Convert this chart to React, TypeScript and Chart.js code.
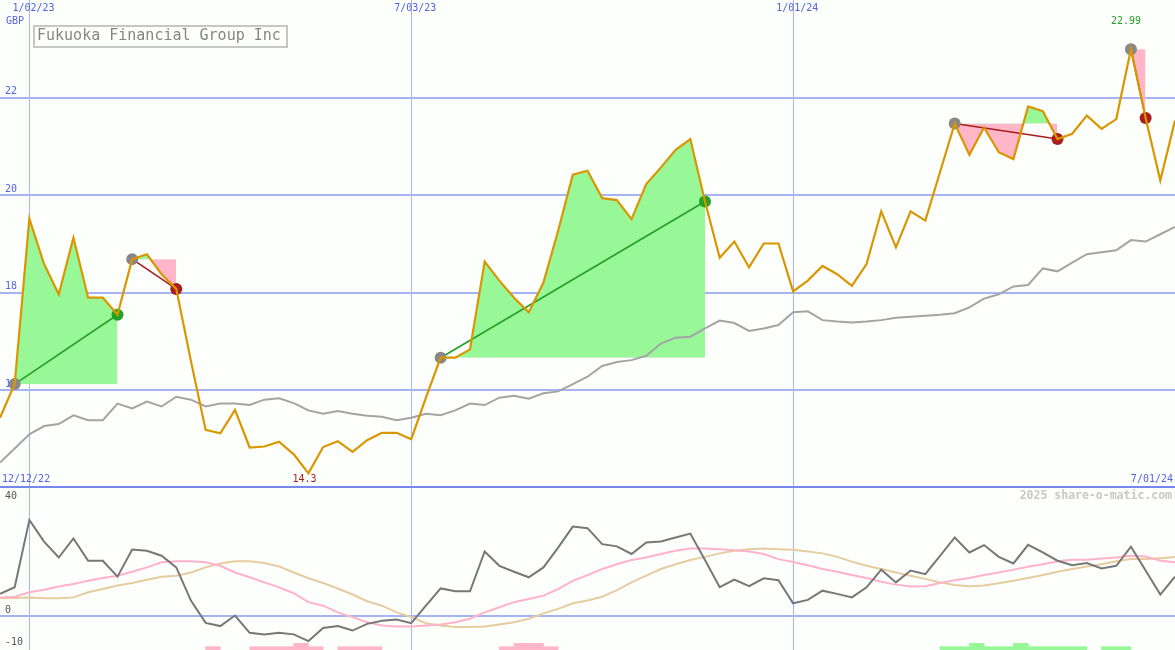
import React, { useEffect, useRef } from "react";
import { Chart, registerables } from "chart.js";

Chart.register(...registerables);

const W = 1175;
const TOP_H = 488;
const BOT_H = 162;

// ---- categories / ticks ----
const gridWeeks = [2, 28, 54];
const gridDates = ["1/02/23", "7/03/23", "1/01/24"];
const startLabel = "12/12/22";
const endLabel = "7/01/24";
const priceTicks = [16, 18, 20, 22];
const oscTicks = [40, 0, -10];
const oscGrid = [0];
const title = "Fukuoka Financial Group Inc";
const currency = "GBP";
const watermark = "2025 share-o-matic.com";

// ---- weekly series (index 0..80) ----
const price = [
  15.44, 16.13, 19.52, 18.59, 17.97, 19.13, 17.9, 17.9, 17.55, 18.69,
  18.79, 18.38, 18.08, 16.6, 15.19, 15.12, 15.6, 14.83, 14.85, 14.95,
  14.69, 14.3, 14.84, 14.96, 14.74, 14.98, 15.13, 15.13, 15.0, 15.85,
  16.67, 16.67, 16.84, 18.64, 18.25, 17.9, 17.6, 18.21, 19.27, 20.42,
  20.5, 19.94, 19.9, 19.51, 20.23, 20.57, 20.93, 21.15, 19.87, 18.72,
  19.05, 18.52, 19.01, 19.01, 18.03, 18.25, 18.55, 18.38, 18.14, 18.59,
  19.67, 18.93, 19.67, 19.48, 20.47, 21.47, 20.83, 21.39, 20.88, 20.74,
  21.82, 21.72, 21.15, 21.26, 21.63, 21.36, 21.56, 22.99, 21.58, 20.3,
  21.53,
];
const average = [
  14.52, 14.81, 15.1, 15.27, 15.31, 15.49, 15.39, 15.39, 15.73, 15.63,
  15.77, 15.67, 15.87, 15.81, 15.67, 15.73, 15.73, 15.7, 15.81, 15.84,
  15.74, 15.59, 15.52, 15.58, 15.52, 15.48, 15.46, 15.39, 15.44, 15.52,
  15.49, 15.59, 15.73, 15.7, 15.85, 15.89, 15.83, 15.94, 15.98, 16.13,
  16.28, 16.5, 16.58, 16.62, 16.71, 16.96, 17.08, 17.1, 17.27, 17.43,
  17.38, 17.22, 17.27, 17.34, 17.6, 17.62, 17.44, 17.41, 17.39, 17.41,
  17.44, 17.49, 17.51, 17.53, 17.55, 17.58, 17.7, 17.88, 17.97, 18.13,
  18.16, 18.5, 18.44, 18.62, 18.79, 18.83, 18.87, 19.08, 19.05, 19.2,
  19.35,
];
const momentum = [
  6.8, 8.9, 30.0, 23.2, 18.2, 24.2, 17.2, 17.2, 12.2, 20.7,
  20.3, 18.75, 15.1, 4.7, -2.3, -3.3, 0, -5.4, -5.9, -5.4,
  -5.9, -8.0, -3.9, -3.3, -4.7, -2.6, -1.6, -1.25, -2.4, 3.1,
  8.5, 7.6, 7.6, 20.1, 15.6, 13.75, 12.0, 15.1, 21.3, 27.9,
  27.4, 22.4, 21.7, 19.3, 22.9, 23.2, 24.5, 25.7, 17.4, 8.9,
  11.25, 9.2, 11.7, 11.1, 3.85, 4.9, 7.8, 6.8, 5.7, 8.85,
  14.4, 10.4, 14.1, 13.0, 18.75, 24.5, 19.8, 22.1, 18.4, 16.35,
  22.2, 19.8, 17.2, 15.8, 16.5, 14.8, 15.6, 21.6, 14.1, 6.6,
  12.2,
];
const signal = [
  5.7, 5.9, 7.3, 8.1, 9.1, 9.9, 10.9, 11.8, 12.5, 13.75,
  15.1, 16.7, 17.0, 17.0, 16.7, 15.6, 13.5, 12.0, 10.4, 8.85,
  7.0, 4.2, 3.1, 1.0, -0.5, -2.1, -3.1, -3.4, -3.4, -3.1,
  -2.8, -2.1, -1.0, 1.0, 2.6, 4.2, 5.2, 6.25, 8.3, 10.9,
  12.7, 14.6, 16.1, 17.4, 18.2, 19.3, 20.3, 21.0, 21.0, 20.8,
  20.5, 20.1, 19.3, 17.7, 16.8, 15.8, 14.6, 13.75, 12.7, 11.8,
  10.6, 9.7, 9.1, 9.2, 10.2, 11.1, 11.8, 12.7, 13.5, 14.4,
  15.3, 16.1, 17.0, 17.5, 17.5, 17.9, 18.2, 18.75, 18.5, 17.2,
  16.7,
];
const slow = [
  5.5, 5.5, 5.7, 5.4, 5.4, 5.7, 7.3, 8.3, 9.4, 10.2,
  11.25, 12.2, 12.5, 13.5, 15.1, 16.35, 17.0, 17.0, 16.5, 15.4,
  13.5, 11.7, 10.2, 8.5, 6.6, 4.5, 3.1, 1.0, -0.5, -2.4,
  -3.1, -3.6, -3.6, -3.4, -2.8, -2.1, -1.0, 0.7, 2.1, 3.85,
  4.7, 5.9, 8.0, 10.4, 12.5, 14.6, 16.1, 17.4, 18.4, 19.5,
  20.3, 20.8, 21.0, 20.8, 20.6, 20.1, 19.5, 18.4, 16.9, 15.6,
  14.6, 13.5, 12.5, 11.5, 10.4, 9.6, 9.2, 9.4, 10.1, 10.9,
  11.8, 12.7, 13.75, 14.6, 15.4, 16.1, 17.0, 17.7, 17.7, 18.0,
  18.4,
];
// histogram at the foot of the lower panel, one value per week interval (0..79)
const bottomBars = [
  0, 0, 0, 0, 0, 0, 0, 0, 0, 0,
  0, 0, 0, 0, -1, 0, 0, -1, -1, -1,
  -2, -1, 0, -1, -1, -1, 0, 0, 0, 0,
  0, 0, 0, 0, -1, -2, -2, -1, 0, 0,
  0, 0, 0, 0, 0, 0, 0, 0, 0, 0,
  0, 0, 0, 0, 0, 0, 0, 0, 0, 0,
  0, 0, 0, 0, 1, 1, 2, 1, 1, 2,
  1, 1, 1, 1, 0, 1, 1, 0, 0, 0,
];
// trades
const buyWeeks = [1, 9, 30, 65, 77];
const sellWeeks = [8, 12, 48, 72, 78];

// ---- styles ----
const BG = "#fcfffc";
const GRID = "#a6b4f2";
const SEP = "#7686ec";
const LABEL = "#5462e4";
const PRICE = "#d99600";
const AVG = "#a4a4a4";
const MOM = "#777777";
const SIG = "#ffb2c8";
const SLOW = "#e6cc9e";
const UP_FILL = "#98f898";
const DN_FILL = "#ffb6c8";
const BUY = "#888888";
const WIN = "#24a024";
const LOSS = "#a81e1e";
const MONO = '"DejaVu Sans Mono", "Liberation Mono", monospace';

const pts = (arr: number[], from = 0) => arr.map((y, i) => ({ x: i + from, y }));

const baseX = (ticksArr: number[]) => ({
  type: "linear" as const,
  min: 0,
  max: price.length - 1,
  offset: false,
  afterBuildTicks: (s: any) => {
    s.ticks = ticksArr.map((v) => ({ value: v }));
  },
  afterFit: (s: any) => {
    s.height = 0;
  },
  ticks: { display: false },
  grid: { color: GRID, lineWidth: 1, drawTicks: false, offset: false },
  border: { display: false },
});

const fmt = (v: number) => String(Number(v.toFixed(2)));

export default function App() {
  const topRef = useRef<HTMLCanvasElement | null>(null);
  const botRef = useRef<HTMLCanvasElement | null>(null);

  useEffect(() => {
    if (!topRef.current || !botRef.current) return;

    const fills = buyWeeks.map((b, k) => ({
      type: "line" as const,
      data: pts(price.slice(b, sellWeeks[k] + 1), b),
      borderWidth: 0,
      borderColor: "rgba(0,0,0,0)",
      pointRadius: 0,
      fill: { target: { value: price[b] }, above: UP_FILL, below: DN_FILL },
      order: 5,
    }));
    const tradeLines = buyWeeks.map((b, k) => {
      const s = sellWeeks[k];
      const won = price[s] >= price[b];
      return {
        type: "line" as const,
        data: [
          { x: b, y: price[b] },
          { x: s, y: price[s] },
        ],
        borderColor: won ? WIN : LOSS,
        borderWidth: 1.6,
        pointRadius: 0,
        fill: false,
        order: 3,
      };
    });
    const markerData = [
      ...buyWeeks.map((b) => ({ x: b, y: price[b] })),
      ...sellWeeks.map((s) => ({ x: s, y: price[s] })),
    ];
    const markerColors = [
      ...buyWeeks.map(() => BUY),
      ...sellWeeks.map((s, k) => (price[s] >= price[buyWeeks[k]] ? WIN : LOSS)),
    ];

    const minV = Math.min(...price);
    const maxV = Math.max(...price);
    const minI = price.indexOf(minV);
    const maxI = price.indexOf(maxV);

    const upperText = {
      id: "upperText",
      beforeDatasetsDraw(chart: any) {
        const { ctx } = chart;
        const y = chart.scales.y;
        ctx.save();
        ctx.font = `10px ${MONO}`;
        ctx.fillStyle = LABEL;
        ctx.textBaseline = "middle";
        ctx.textAlign = "left";
        priceTicks.forEach((v) => ctx.fillText(String(v), 5, y.getPixelForValue(v) - 6));
        ctx.fillText(currency, 6, 21);
        ctx.restore();
      },
      afterDatasetsDraw(chart: any) {
        const { ctx, chartArea } = chart;
        const x = chart.scales.x;
        ctx.save();
        ctx.font = `10px ${MONO}`;
        ctx.textBaseline = "middle";
        ctx.fillStyle = LABEL;
        ctx.textAlign = "left";
        gridWeeks.forEach((w, i) => ctx.fillText(gridDates[i], x.getPixelForValue(w) - 17, 8));
        ctx.fillText(startLabel, 2, chartArea.bottom - 9);
        ctx.textAlign = "right";
        ctx.fillText(endLabel, chartArea.right - 2, chartArea.bottom - 9);
        ctx.textAlign = "center";
        ctx.fillStyle = LOSS;
        ctx.fillText(fmt(minV), x.getPixelForValue(minI) - 4, chartArea.bottom - 9);
        ctx.fillStyle = WIN;
        ctx.fillText(fmt(maxV), x.getPixelForValue(maxI) - 5, 21);
        // title box
        ctx.lineWidth = 2;
        ctx.strokeStyle = "#c6c6c6";
        ctx.fillStyle = BG;
        ctx.fillRect(34, 26, 253, 21);
        ctx.strokeRect(34, 26, 253, 21);
        ctx.fillStyle = "#858585";
        ctx.textAlign = "left";
        ctx.font = `15px ${MONO}`;
        ctx.fillText(title, 37, 36.5);
        // panel separator
        ctx.fillStyle = SEP;
        ctx.fillRect(chartArea.left, chartArea.bottom - 2, chartArea.right - chartArea.left, 2);
        ctx.restore();
      },
    };

    const upper = new Chart(topRef.current, {
      type: "line",
      data: {
        datasets: [
          {
            data: pts(price),
            borderColor: PRICE,
            borderWidth: 2.2,
            pointRadius: 0,
            fill: false,
            order: 0,
          },
          {
            data: markerData,
            showLine: false,
            pointRadius: 6,
            pointBorderWidth: 0,
            pointBackgroundColor: markerColors,
            borderColor: "rgba(0,0,0,0)",
            order: 1,
          },
          ...tradeLines,
          {
            data: pts(average),
            borderColor: AVG,
            borderWidth: 2,
            pointRadius: 0,
            fill: false,
            order: 4,
          },
          ...fills,
        ] as any,
      },
      options: {
        responsive: false,
        animation: false,
        events: [],
        layout: { padding: 0, autoPadding: false },
        plugins: {
          legend: { display: false },
          tooltip: { enabled: false },
          filler: { drawTime: "beforeDatasetsDraw" },
        } as any,
        scales: {
          x: baseX(gridWeeks) as any,
          y: {
            type: "linear",
            min: 14,
            max: 24,
            afterBuildTicks: (s: any) => {
              s.ticks = priceTicks.map((v) => ({ value: v }));
            },
            afterFit: (s: any) => {
              s.width = 0;
            },
            ticks: { display: false },
            grid: { color: GRID, lineWidth: 2, drawTicks: false },
            border: { display: false },
          },
        },
      } as any,
      plugins: [upperText as any],
    });

    const lowerText = {
      id: "lowerText",
      afterDatasetsDraw(chart: any) {
        const { ctx, chartArea } = chart;
        const y = chart.scales.y;
        ctx.save();
        ctx.textBaseline = "middle";
        ctx.textAlign = "left";
        ctx.font = `10px ${MONO}`;
        ctx.fillStyle = "#555555";
        oscTicks.forEach((v) => {
          const p = y.getPixelForValue(v);
          const cy = p - 6 < chartArea.top ? p + 8 : p - 5.5;
          ctx.fillText(String(v), 5, cy);
        });
        ctx.textAlign = "right";
        ctx.font = `bold 11.5px ${MONO}`;
        ctx.fillStyle = "#c8c8c8";
        ctx.fillText(watermark, chartArea.right - 3, 8.5);
        ctx.restore();
      },
    };

    const lower = new Chart(botRef.current, {
      type: "line",
      data: {
        datasets: [
          {
            data: pts(momentum),
            borderColor: MOM,
            borderWidth: 2,
            pointRadius: 0,
            order: 0,
          },
          {
            data: pts(signal),
            borderColor: SIG,
            borderWidth: 2,
            pointRadius: 0,
            order: 1,
          },
          {
            data: pts(slow),
            borderColor: SLOW,
            borderWidth: 2,
            pointRadius: 0,
            order: 2,
          },
          {
            type: "bar",
            yAxisID: "yb",
            data: bottomBars.map((v, i) => ({ x: i + 0.5, y: v === 0 ? null : Math.abs(v) })),
            backgroundColor: bottomBars.map((v) => (v < 0 ? DN_FILL : UP_FILL)),
            borderWidth: 0,
            barPercentage: 1,
            categoryPercentage: 1,
            order: 3,
          },
        ] as any,
      },
      options: {
        responsive: false,
        animation: false,
        events: [],
        layout: { padding: 0, autoPadding: false },
        plugins: {
          legend: { display: false },
          tooltip: { enabled: false },
        },
        scales: {
          x: baseX(gridWeeks) as any,
          y: {
            type: "linear",
            min: -10.8,
            max: 40,
            afterBuildTicks: (s: any) => {
              s.ticks = oscGrid.map((v) => ({ value: v }));
            },
            afterFit: (s: any) => {
              s.width = 0;
            },
            ticks: { display: false },
            grid: { color: GRID, lineWidth: 2, drawTicks: false },
            border: { display: false },
          },
          yb: {
            type: "linear",
            min: 0,
            max: 48.6,
            display: false,
          },
        },
      } as any,
      plugins: [lowerText as any],
    });

    return () => {
      upper.destroy();
      lower.destroy();
    };
  }, []);

  return (
    <div
      style={{
        position: "absolute",
        left: 0,
        top: 0,
        width: W,
        height: TOP_H + BOT_H,
        background: BG,
        overflow: "hidden",
      }}
    >
      <canvas ref={topRef} width={W} height={TOP_H} style={{ display: "block" }} />
      <canvas ref={botRef} width={W} height={BOT_H} style={{ display: "block" }} />
    </div>
  );
}
